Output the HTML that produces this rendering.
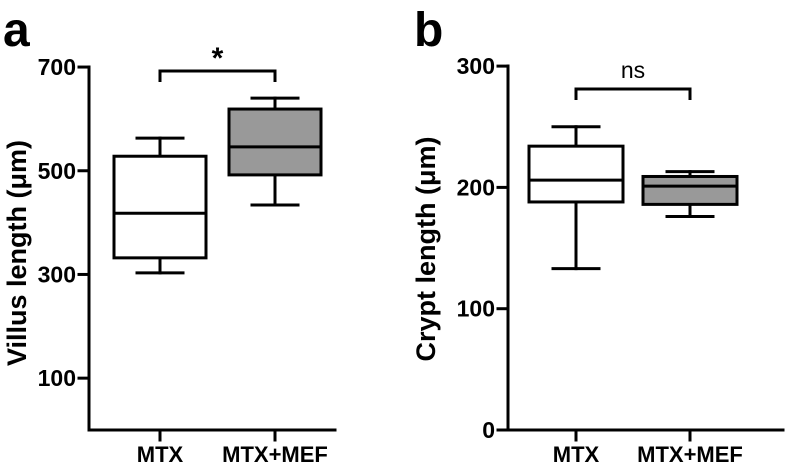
<!DOCTYPE html>
<html><head><meta charset="utf-8"><style>
body{margin:0;background:#fff}
svg{display:block;font-family:"Liberation Sans",Arial,sans-serif}
</style></head><body>
<svg id="fig" width="786" height="463" viewBox="0 0 786 463">
<g id="pa"></g>
<g id="pb"></g>
</svg>
<script>
const categories = ["MTX", "MTX+MEF"];
const villusMax = [563, 640];
const villusQ3 = [528, 619];
const villusMedian = [418, 546];
const villusQ1 = [332, 492];
const villusMin = [303, 434];
const villusTicks = [100, 300, 500, 700];
const cryptMax = [250, 213];
const cryptQ3 = [234, 209];
const cryptMedian = [206, 201];
const cryptQ1 = [188, 186];
const cryptMin = [133, 176];
const cryptTicks = [0, 100, 200, 300];
const fills = ["#ffffff", "#999999"];

const NS = "http://www.w3.org/2000/svg";
function mk(parent, tag, attrs, text){
  const e = document.createElementNS(NS, tag);
  for (const k in attrs) e.setAttribute(k, attrs[k]);
  if (text !== undefined) e.textContent = text;
  parent.appendChild(e);
  return e;
}
function panel(g, cfg){
  const y = v => cfg.y0 - (v - cfg.vmin) * cfg.ppu;
  const x = i => cfg.xs[i];
  const line = (x1,y1,x2,y2,name) => {
    const l = mk(g,"line",{x1,y1,x2,y2,stroke:"#000","stroke-width":3,"stroke-linecap":"square"});
    
    
    return l;
  };
  line(cfg.ax, cfg.yTop, cfg.ax, cfg.y0, "y-axis");
  line(cfg.ax, cfg.y0, cfg.xEnd, cfg.y0, "x-axis");
  cfg.ticks.forEach(t => {
    line(cfg.ax - 10, y(t), cfg.ax, y(t), "y-tick");
    const tl = mk(g,"text",{x:cfg.ax-13,y:y(t)+8,"text-anchor":"end","font-size":23,"font-weight":"bold"}, String(t));
    
    
  });
  categories.forEach((c,i) => {
    line(x(i), cfg.y0, x(i), cfg.y0+10, "x-tick");
    const xl = mk(g,"text",{x:x(i),y:462,"text-anchor":"middle","font-size":22,"font-weight":"bold"}, c);
    
    
    const hw = cfg.boxHalf, cw = 23;
    line(x(i), y(cfg.max[i]), x(i), y(cfg.q3[i]), "whisker-upper");
    line(x(i)-cw, y(cfg.max[i]), x(i)+cw, y(cfg.max[i]), "whisker-cap-upper");
    line(x(i), y(cfg.q1[i]), x(i), y(cfg.min[i]), "whisker-lower");
    line(x(i)-cw, y(cfg.min[i]), x(i)+cw, y(cfg.min[i]), "whisker-cap-lower");
    const r = mk(g,"rect",{x:x(i)-hw,y:y(cfg.q3[i]),width:2*hw,height:y(cfg.q1[i])-y(cfg.q3[i]),fill:fills[i],stroke:"#000","stroke-width":3});
    
    
    line(x(i)-hw, y(cfg.med[i]), x(i)+hw, y(cfg.med[i]), "median-line");
  });
  const b = mk(g,"path",{d:`M${x(0)},${cfg.brY+11}V${cfg.brY}H${x(1)}V${cfg.brY+11}`,fill:"none",stroke:"#000","stroke-width":3});
  
  
  const s = mk(g,"text",{x:(x(0)+x(1))/2,y:cfg.sigY,"text-anchor":"middle","font-size":cfg.sigSize,"font-weight":cfg.sigW}, cfg.sig);
  
  
  const tt = mk(g,"text",{x:0,y:0,"text-anchor":"middle","font-size":27,"font-weight":"bold",transform:`translate(${cfg.titleX},${cfg.titleY}) rotate(-90)`}, cfg.title);
  
  
  const pl = mk(g,"text",{x:cfg.letterX,y:46,"font-size":48,"font-weight":"bold"}, cfg.letter);
  
  
}
panel(document.getElementById("pa"), {
  y0:430, vmin:0, ppu:0.5185, yTop:67, ax:89, xEnd:335, xs:[160,275], boxHalf:46,
  ticks:villusTicks, max:villusMax, q3:villusQ3, med:villusMedian, q1:villusQ1, min:villusMin,
  brY:71, sig:"*", sigY:68, sigSize:30, sigW:"bold",
  title:"Villus length (\u03bcm)", titleX:26, titleY:253, letter:"a", letterX:3
});
panel(document.getElementById("pb"), {
  y0:430, vmin:0, ppu:1.213, yTop:66, ax:508, xEnd:783, xs:[576,690], boxHalf:47,
  ticks:cryptTicks, max:cryptMax, q3:cryptQ3, med:cryptMedian, q1:cryptQ1, min:cryptMin,
  brY:89, sig:"ns", sigY:78, sigSize:23, sigW:"normal",
  title:"Crypt length (\u03bcm)", titleX:435, titleY:249, letter:"b", letterX:414
});
</script>
</body></html>
